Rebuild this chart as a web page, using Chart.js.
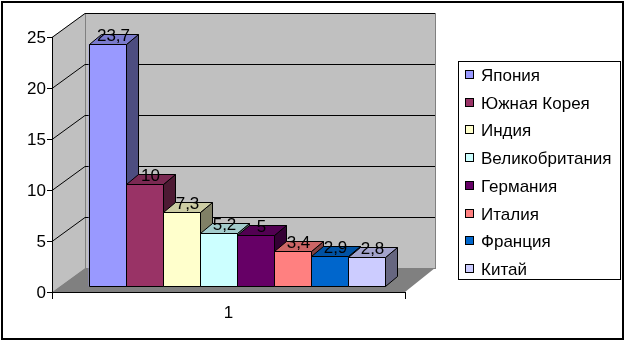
<!DOCTYPE html>
<html>
<head>
<meta charset="utf-8">
<script src="https://cdn.jsdelivr.net/npm/chart.js@4/dist/chart.umd.min.js"></script>
<style>
  body { margin: 0; background: #fff; }
  canvas { display: block; }
</style>
</head>
<body>
<canvas id="grafica" width="628" height="341"></canvas>
<script>
const categorias = ["1"];
const paises = ["Япония", "Южная Корея", "Индия", "Великобритания", "Германия", "Италия", "Франция", "Китай"];
const valores = [23.7, 10, 7.3, 5.2, 5, 3.4, 2.9, 2.8];
const colores = ["#9999FF", "#993366", "#FFFFCC", "#CCFFFF", "#660066", "#FF8080", "#0066CC", "#CCCCFF"];
const ticksY = [0, 5, 10, 15, 20, 25];

const FONT = '17px "Liberation Sans", Arial, sans-serif';
const DX = 12, DY = -10;

function sombra(hex, f) {
  const n = parseInt(hex.slice(1), 16);
  const r = Math.round(((n >> 16) & 255) * f);
  const g = Math.round(((n >> 8) & 255) * f);
  const b = Math.round((n & 255) * f);
  return `rgb(${r},${g},${b})`;
}

function poly(ctx, pts, fill, stroke) {
  ctx.beginPath();
  ctx.moveTo(pts[0][0], pts[0][1]);
  for (let i = 1; i < pts.length; i++) ctx.lineTo(pts[i][0], pts[i][1]);
  ctx.closePath();
  if (fill) { ctx.fillStyle = fill; ctx.fill(); }
  if (stroke) { ctx.strokeStyle = stroke; ctx.lineWidth = 1; ctx.stroke(); }
}

const fondo3d = {
  id: "fondo3d",
  beforeDatasetsDraw(chart) {
    const ctx = chart.ctx;
    const y = chart.scales.y;
    const front = v => Math.round(y.getPixelForValue(v)) + 6;
    const back = v => Math.round(y.getPixelForValue(v)) - 18;
    const xf = 52, xb = 85, xbr = 435, xfr = 405;
    ctx.save();
    // borde exterior
    ctx.strokeStyle = "#000";
    ctx.lineWidth = 2;
    ctx.strokeRect(2, 2, 621, 337);
    // pared izquierda
    poly(ctx, [[xf, front(25)], [xb, back(25)], [xb, back(0)], [xf, front(0)]], "#C0C0C0", null);
    // pared trasera
    ctx.fillStyle = "#C0C0C0";
    ctx.fillRect(xb, back(25), xbr - xb, back(0) - back(25));
    ctx.strokeStyle = "#808080";
    ctx.lineWidth = 1;
    ctx.strokeRect(xb + 0.5, back(25) + 0.5, xbr - xb, back(0) - back(25));
    // suelo
    poly(ctx, [[xf, front(0)], [xb, back(0)], [xbr, back(0)], [xfr, front(0)]], "#808080", null);
    // lineas de cuadricula
    ctx.strokeStyle = "#000";
    ctx.lineWidth = 1;
    ticksY.forEach(v => {
      if (v === 0) return;
      ctx.beginPath();
      ctx.moveTo(xf, front(v) + 0.5);
      ctx.lineTo(xb, back(v) + 0.5);
      ctx.lineTo(xbr, back(v) + 0.5);
      ctx.stroke();
    });
    // eje Y
    ctx.beginPath();
    ctx.moveTo(xf + 0.5, front(25));
    ctx.lineTo(xf + 0.5, front(0) + 0.5);
    ctx.lineTo(xfr, front(0) + 0.5);
    ctx.stroke();
    ctx.font = FONT;
    ctx.fillStyle = "#000";
    ctx.textAlign = "right";
    ctx.textBaseline = "middle";
    ticksY.forEach(v => {
      ctx.beginPath();
      ctx.moveTo(xf - 5, front(v) + 0.5);
      ctx.lineTo(xf, front(v) + 0.5);
      ctx.stroke();
      ctx.fillText(String(v), xf - 6, front(v) + 1);
    });
    // eje X
    [xf, xfr].forEach(x => {
      ctx.beginPath();
      ctx.moveTo(x + 0.5, front(0));
      ctx.lineTo(x + 0.5, front(0) + 7);
      ctx.stroke();
    });
    ctx.textAlign = "center";
    ctx.fillText(categorias[0], (xf + xfr) / 2, front(0) + 21);
    ctx.restore();
  },
  afterDatasetsDraw(chart) {
    const ctx = chart.ctx;
    ctx.save();
    const barras = [];
    chart.data.datasets.forEach((ds, i) => {
      const bar = chart.getDatasetMeta(i).data[0];
      const l = Math.round(bar.x - bar.width / 2), r = Math.round(bar.x + bar.width / 2);
      const t = Math.round(bar.y), b = Math.round(bar.base);
      barras.push({ l, r, t, b });
      const c = colores[i];
      poly(ctx, [[l + 0.5, t + 0.5], [r + 0.5, t + 0.5], [r + 0.5, b + 0.5], [l + 0.5, b + 0.5]], c, "#000");
      poly(ctx, [[r + 0.5, t + 0.5], [r + DX + 0.5, t + DY + 0.5], [r + DX + 0.5, b + DY + 0.5], [r + 0.5, b + 0.5]], sombra(c, 0.5), "#000");
      poly(ctx, [[l + 0.5, t + 0.5], [l + DX + 0.5, t + DY + 0.5], [r + DX + 0.5, t + DY + 0.5], [r + 0.5, t + 0.5]], sombra(c, 0.8), "#000");
    });
    ctx.font = FONT;
    ctx.fillStyle = "#000";
    ctx.textAlign = "center";
    ctx.textBaseline = "middle";
    barras.forEach((p, i) => {
      ctx.fillText(String(valores[i]).replace(".", ","), (p.l + p.r) / 2 + DX / 2, p.t + DY / 2 - 3);
    });
    // leyenda
    ctx.strokeStyle = "#000";
    ctx.lineWidth = 1;
    ctx.strokeRect(458.5, 61.5, 162, 218);
    ctx.textAlign = "left";
    paises.forEach((p, i) => {
      const yy = Math.round(75 + i * 27.7);
      ctx.fillStyle = colores[i];
      ctx.fillRect(465, yy - 5, 9, 9);
      ctx.strokeRect(465.5, yy - 4.5, 8, 8);
      ctx.fillStyle = "#000";
      ctx.fillText(p, 481, yy + 1);
    });
    ctx.restore();
  }
};

const ctx = document.getElementById("grafica").getContext("2d");
new Chart(ctx, {
  type: "bar",
  data: {
    labels: categorias,
    datasets: paises.map((p, i) => ({
      label: p,
      data: [valores[i]],
      backgroundColor: colores[i],
      borderColor: "#000",
      borderWidth: 0,
      categoryPercentage: 1,
      barPercentage: 1,
      clip: false
    }))
  },
  options: {
    responsive: false,
    animation: false,
    layout: { padding: { left: 89, right: 243, top: 31, bottom: 55 } },
    scales: {
      x: { display: false },
      y: { display: false, min: 0, max: 25 }
    },
    plugins: {
      legend: { display: false },
      tooltip: { enabled: false }
    }
  },
  plugins: [fondo3d]
});
</script>
</body>
</html>
